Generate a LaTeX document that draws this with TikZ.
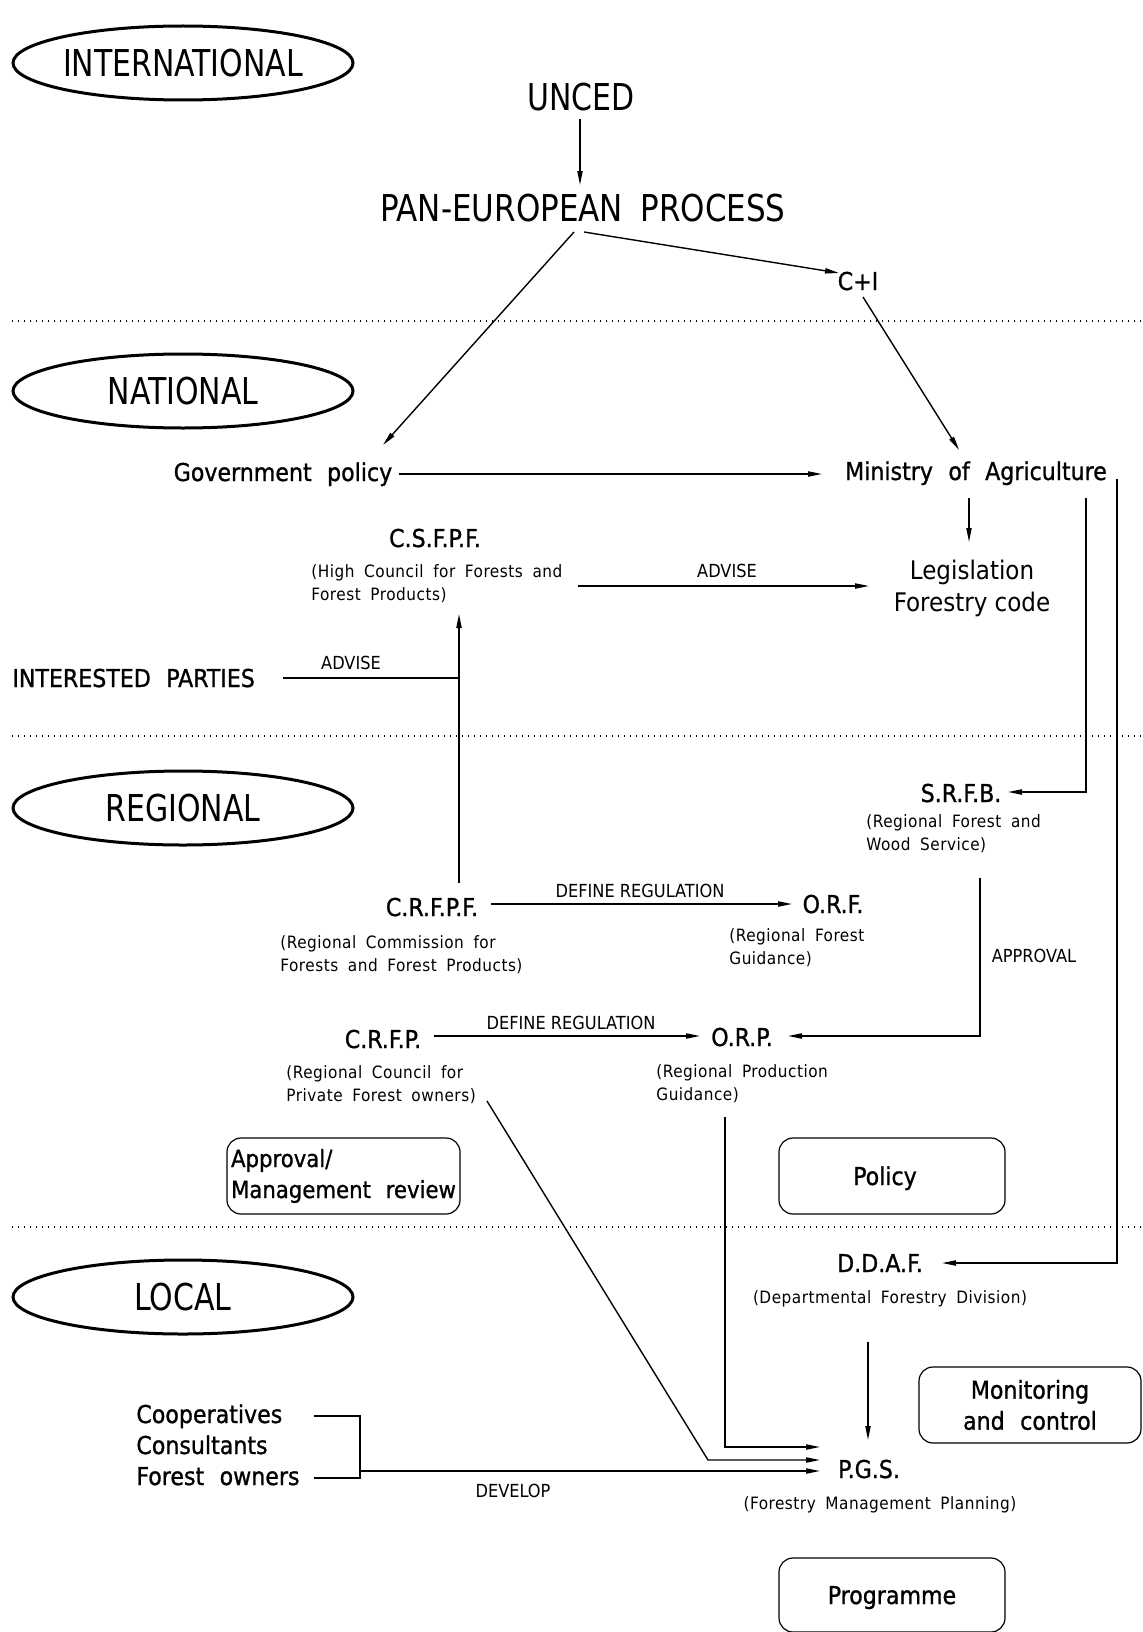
\documentclass[tikz,border=0pt]{standalone}
\usepackage{fontspec}
\setmainfont{DejaVu Sans Condensed}
\newfontfamily\fbig{DejaVu Sans Condensed}[FakeStretch=0.9, WordSpace=1.8]
\newfontfamily\fwide{DejaVu Sans Condensed}[FakeStretch=0.93, WordSpace=1.8]
\newfontfamily\fmid{DejaVu Sans Condensed}[FakeBold=1, WordSpace=2.2]
\newfontfamily\fthin{DejaVu Sans Condensed}[WordSpace=2.2]
\newfontfamily\fsml{DejaVu Sans Condensed}[LetterSpace=3, WordSpace=1.8]
\newfontfamily\flbl{DejaVu Sans Condensed}
\usetikzlibrary{shapes.geometric,arrows.meta,calc}
\begin{document}
\begin{tikzpicture}[x=0.5pt,y=-0.5pt,
  big/.style={font=\fbig\fontsize{18.5}{22}\selectfont, inner sep=0pt, text height=13.5pt, text depth=0pt},
  mid/.style={font=\fmid\fontsize{12.3}{15.5}\selectfont, inner sep=0pt, text height=9pt, text depth=0pt},
  sml/.style={font=\fsml\fontsize{8.5}{11.5}\selectfont, inner sep=0pt},
  lbl/.style={font=\flbl\fontsize{9}{11}\selectfont, inner sep=0pt, text height=6.6pt, text depth=0pt},
  tier/.style={draw, ellipse, inner sep=0pt, line width=1.5pt, minimum width=170pt, minimum height=37pt,
    font=\fbig\fontsize{18.5}{22}\selectfont},
  desc/.style={sml, align=left, anchor=north west},
  panel/.style={draw, rounded corners=7pt, line width=0.6pt, minimum height=38pt},
  conn/.style={line width=0.7pt},
  arr/.style={conn, -{Triangle[length=7pt,width=2.6pt]}},
  sep/.style={line width=0.7pt, dash pattern=on 0.7pt off 2.3pt},
]
\useasboundingbox (0,0) rectangle (1142,1632);

% level separators
\draw[sep] (12,321) -- (1142,321);
\draw[sep] (12,736) -- (1142,736);
\draw[sep] (12,1227) -- (1142,1227);

% levels
\node[tier] (intl) at (183,63) {INTERNATIONAL};
\node[tier] (natl) at (183,391) {NATIONAL};
\node[tier] (regl) at (183,808) {REGIONAL};
\node[tier] (locl) at (183,1297) {LOCAL};

% international
\node[big] (unced) at (581,97) {UNCED};
\node[big, font=\fwide\fontsize{18.5}{22}\selectfont] (pan) at (583,208) {PAN-EUROPEAN PROCESS};
\node[mid] (ci) at (858,281) {C+I};

% national
\node[mid] (gov) at (283,472) {Government policy};
\node[mid] (min) at (976,471) {Ministry of Agriculture};
\node[align=center, inner sep=0pt, font=\fthin\fontsize{12.8}{16}\selectfont] (leg) at (972,588) {Legislation\\Forestry code};
\node[mid] (csfpf) at (435,538) {C.S.F.P.F.};
\node[desc] (csfpfd) at (311,564) {(High Council for Forests and\\Forest Products)};
\node[mid, anchor=west] (ip) at (12,678) {INTERESTED PARTIES};

% regional
\node[mid] (srfb) at (961,793) {S.R.F.B.};
\node[desc] (srfbd) at (866,814) {(Regional Forest and\\Wood Service)};
\node[mid] (crfpf) at (432,907) {C.R.F.P.F.};
\node[desc] (crfpfd) at (280,935) {(Regional Commission for\\Forests and Forest Products)};
\node[mid] (orf) at (833,904) {O.R.F.};
\node[desc] (orfd) at (729,928) {(Regional Forest\\Guidance)};
\node[mid] (crfp) at (383,1039) {C.R.F.P.};
\node[desc] (crfpd) at (286,1065) {(Regional Council for\\Private Forest owners)};
\node[mid] (orp) at (742,1037) {O.R.P.};
\node[desc] (orpd) at (656,1064) {(Regional Production\\Guidance)};

% local
\node[mid] (ddaf) at (880,1263) {D.D.A.F.};
\node[sml] (ddafd) at (890,1299) {(Departmental Forestry Division)};
\node[mid] (pgs) at (869,1469) {P.G.S.};
\node[sml] (pgsd) at (880,1505) {(Forestry Management Planning)};
\node[mid, anchor=west] (coop) at (136,1414) {Cooperatives};
\node[mid, anchor=west] (cons) at (136,1445) {Consultants};
\node[mid, anchor=west] (own) at (136,1476) {Forest owners};

% process boxes
\node[panel, mid, text height=, text depth=, align=left, minimum width=116.5pt, inner xsep=1.5pt,
  font=\fmid\fontsize{11.8}{15.5}\selectfont] (apr) at (343.5,1176) {Approval/\\Management review};
\node[panel, mid, minimum width=113pt] (pol) at (892,1176) {Policy\hspace*{7pt}};
\node[panel, mid, text height=, text depth=, align=center, minimum width=111pt,
  font=\fmid\fontsize{12.3}{15.5}\selectfont] (mon) at (1030,1405) {Monitoring\\and control};
\node[panel, mid, minimum width=113pt, minimum height=37pt] (prg) at (892,1595) {Programme};

% connector labels
\node[lbl] (adv1) at (727,571) {ADVISE};
\node[lbl] (adv2) at (351,663) {ADVISE};
\node[lbl] (def1) at (640,891) {DEFINE REGULATION};
\node[lbl] (def2) at (571,1023) {DEFINE REGULATION};
\node[lbl] (appr) at (1034,956) {APPROVAL};
\node[lbl] (dev) at (513,1491) {DEVELOP};

% connectors
\draw[arr] ($(unced)+(-1,22)$) -- ($(pan)+(-3,-23)$);
\draw[arr] ($(pan)+(-9,24)$) -- ($(gov)+(100,-27)$);
\draw[arr] ($(pan)+(1,24)$) -- ($(ci)+(-19,-8)$);
\draw[arr] ($(ci)+(5,16)$) -- ($(min)+(-17,-21)$);
\draw[arr] ($(gov)+(116,2)$) -- ($(min)+(-154,3)$);
\draw[arr] ($(min)+(-7,27)$) -- ($(leg)+(-3,-46)$);
\draw[arr] ($(csfpfd.north west)+(267,22)$) -- ($(leg)+(-103,-2)$);
\draw[conn] ($(ip.west)+(271,0)$) -- ($(ip.west)+(447,0)$);
\draw[arr, {Triangle[length=7pt,width=2.6pt]}-] ($(csfpf)+(24,76)$) -- ($(crfpf)+(27,-24)$);
\draw[arr] ($(crfpf)+(59,-3)$) -- ($(orf)+(-41,0)$);
\draw[arr] ($(crfp)+(51,-3)$) -- ($(orp)+(-42,-1)$);
\draw[arr] ($(min)+(110,27)$) |- ($(srfb)+(47,-1)$);
\draw[arr] ($(min)+(141,8)$) |- ($(ddaf)+(62,0)$);
\draw[arr] ($(srfb)+(19,85)$) |- ($(orp)+(46,-1)$);
\draw[arr] ($(crfp)+(104,62)$) -- ($(pgs)+(-161,-9)$) -- ($(pgs)+(-49,-9)$);
\draw[arr] ($(orp)+(-17,80)$) |- ($(pgs)+(-49,-22)$);
\draw[arr] ($(ddaf)+(-12,79)$) -- ($(pgs)+(-1,-29)$);
\draw[conn] ($(coop.west)+(178,2)$) -- ($(coop.west)+(224,2)$) -- ($(own.west)+(224,2)$) -- ($(own.west)+(178,2)$);
\draw[arr] ($(own.west)+(224,-5)$) -- ($(pgs)+(-49,2)$);
\end{tikzpicture}
\end{document}
